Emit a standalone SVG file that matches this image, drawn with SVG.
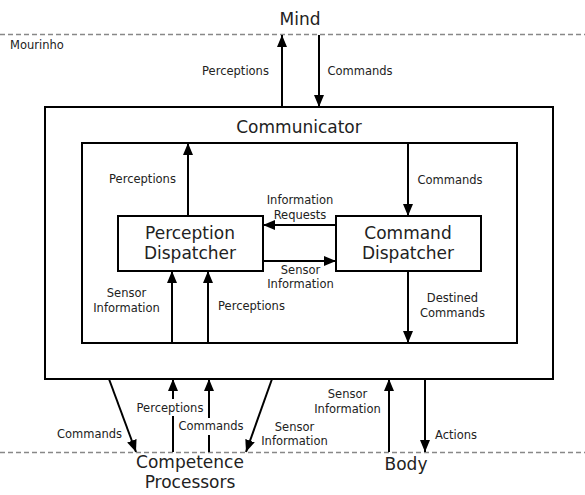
<svg xmlns="http://www.w3.org/2000/svg" width="585" height="495" viewBox="0 0 585 495">
  <style>
    .box { fill: #fff; stroke: #000; stroke-width: 2; }
    .boundary { stroke: #888; stroke-width: 1.5; stroke-dasharray: 5 3; fill: none; }
    .flow { stroke: #000; stroke-width: 2; fill: none; marker-end: url(#head); }
    .title { font-family: "DejaVu Sans", "Liberation Sans", sans-serif; font-size: 17px; fill: #222; text-anchor: middle; }
    .lbl { font-family: "DejaVu Sans", "Liberation Sans", sans-serif; font-size: 11.5px; fill: #222; text-anchor: middle; }
    .mask { fill: #fff; stroke: none; }
  </style>
  <defs>
    <marker id="head" markerUnits="userSpaceOnUse" markerWidth="13" markerHeight="11" refX="12" refY="5" orient="auto">
      <path d="M0,0 L12,5 L0,10 Z" fill="#000"/>
    </marker>
  </defs>

  <rect width="585" height="495" fill="#fff"/>

  <!-- system boundaries -->
  <g id="boundaries">
    <line class="boundary" x1="0" y1="34.5" x2="585" y2="34.5"/>
    <line class="boundary" x1="0" y1="452.5" x2="585" y2="452.5"/>
    <text class="lbl" x="10" y="49" style="text-anchor:start">Mourinho</text>
  </g>

  <g id="mind">
    <text class="title" x="300" y="25">Mind</text>
  </g>

  <g id="communicator">
    <rect class="box" x="45" y="107" width="508" height="272"/>
    <text class="title" x="299" y="133">Communicator</text>
  </g>

  <g id="communicator-core">
    <rect class="box" x="82" y="143" width="435" height="200"/>
  </g>

  <g id="perception-dispatcher">
    <rect class="box" x="118" y="216" width="145" height="55"/>
    <text class="title" x="190" y="239">Perception</text>
    <text class="title" x="190" y="259">Dispatcher</text>
  </g>

  <g id="command-dispatcher">
    <rect class="box" x="336" y="216" width="145" height="55"/>
    <text class="title" x="408" y="239">Command</text>
    <text class="title" x="408" y="259">Dispatcher</text>
  </g>

  <g id="competence-processors">
    <text class="title" x="190" y="468">Competence</text>
    <text class="title" x="190" y="488">Processors</text>
  </g>

  <g id="body">
    <text class="title" x="406" y="470">Body</text>
  </g>

  <!-- connectors -->
  <g id="connectors">
    <line class="flow" x1="282" y1="107" x2="282" y2="35"/>
    <line class="flow" x1="319" y1="35" x2="319" y2="107"/>
    <line class="flow" x1="188" y1="216" x2="188" y2="143"/>
    <line class="flow" x1="408" y1="143" x2="408" y2="216"/>
    <line class="flow" x1="336" y1="225" x2="263" y2="225"/>
    <line class="flow" x1="263" y1="261" x2="336" y2="261"/>
    <line class="flow" x1="172" y1="343" x2="172" y2="271"/>
    <line class="flow" x1="208" y1="343" x2="208" y2="271"/>
    <line class="flow" x1="408" y1="271" x2="408" y2="343"/>
    <line class="flow" x1="109" y1="379" x2="136" y2="452"/>
    <line class="flow" x1="173" y1="452" x2="173" y2="379"/>
    <line class="flow" x1="209" y1="452" x2="209" y2="379"/>
    <line class="flow" x1="272" y1="379" x2="246" y2="452"/>
    <line class="flow" x1="389" y1="452" x2="389" y2="379"/>
    <line class="flow" x1="425" y1="379" x2="425" y2="452"/>
  </g>

  <!-- connector labels -->
  <g id="labels">
    <text class="lbl" x="235.5" y="75">Perceptions</text>
    <text class="lbl" x="360" y="75">Commands</text>
    <text class="lbl" x="142.5" y="183">Perceptions</text>
    <text class="lbl" x="450" y="184">Commands</text>
    <text class="lbl" x="300" y="204">Information</text>
    <text class="lbl" x="300" y="219">Requests</text>
    <text class="lbl" x="300.5" y="274">Sensor</text>
    <text class="lbl" x="300.5" y="288">Information</text>
    <text class="lbl" x="126.5" y="297">Sensor</text>
    <text class="lbl" x="126.5" y="312">Information</text>
    <text class="lbl" x="251.5" y="310">Perceptions</text>
    <text class="lbl" x="452.5" y="302">Destined</text>
    <text class="lbl" x="452.5" y="317">Commands</text>
    <text class="lbl" x="89.5" y="438">Commands</text>
    <rect class="mask" x="136" y="399" width="68" height="17"/>
    <text class="lbl" x="170" y="412">Perceptions</text>
    <rect class="mask" x="178" y="418" width="66" height="17"/>
    <text class="lbl" x="211" y="430">Commands</text>
    <text class="lbl" x="294.5" y="431">Sensor</text>
    <text class="lbl" x="294.5" y="445">Information</text>
    <text class="lbl" x="347.5" y="398">Sensor</text>
    <text class="lbl" x="347.5" y="413">Information</text>
    <text class="lbl" x="435" y="439" style="text-anchor:start">Actions</text>
  </g>
</svg>
